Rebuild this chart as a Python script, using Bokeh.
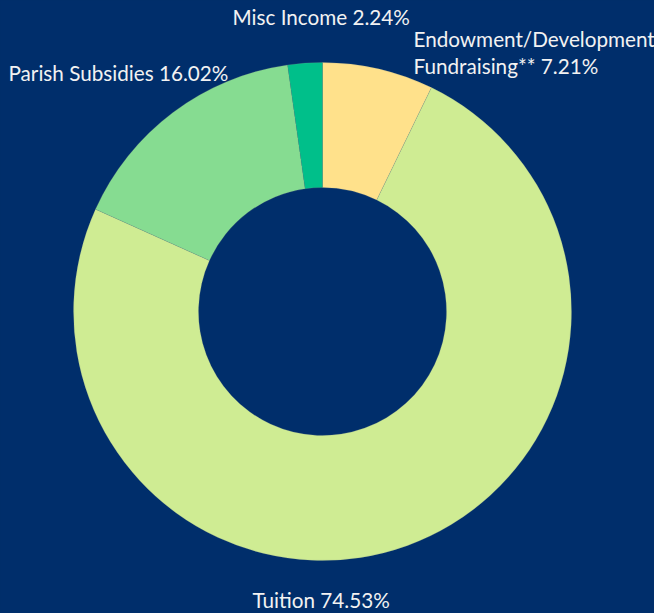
import math
from bokeh.plotting import figure
from bokeh.models import Range1d, ColumnDataSource
from bokeh.core.properties import value
from bokeh.embed import file_html
from bokeh.resources import INLINE

# ---- data (clockwise from 12 o'clock) ----
categories = ["Endowment/Development Fundraising**", "Tuition", "Parish Subsidies", "Misc Income"]
shares = [7.21, 74.53, 16.02, 2.24]
colors = ["#ffe18b", "#cfec93", "#86dc91", "#00bf8a"]
label_lines = [["Endowment/Development", "Fundraising** 7.21%"], ["Tuition 74.53%"],
               ["Parish Subsidies 16.02%"], ["Misc Income 2.24%"]]

BG = "#002e6b"
W, H = 654, 613
CX, CY = 322, H - 311
R_OUT, R_IN = 249, 124

total = sum(shares)
starts, ends = [], []
acc = 0.0
for s in shares:
    a0 = math.pi / 2 - 2 * math.pi * acc / total
    acc += s
    a1 = math.pi / 2 - 2 * math.pi * acc / total
    starts.append(a0)
    ends.append(a1)

src = ColumnDataSource(dict(cat=categories, share=shares, color=colors, start=starts, end=ends))

p = figure(width=W, height=H, output_backend="svg", toolbar_location=None,
           x_range=Range1d(0, W), y_range=Range1d(0, H),
           min_border=0, border_fill_color=BG, background_fill_color=BG)
p.axis.visible = False
p.grid.visible = False
p.outline_line_color = None

p.annular_wedge(x=CX, y=CY, inner_radius=R_IN, outer_radius=R_OUT,
                start_angle="start", end_angle="end", direction="clock",
                fill_color="color", line_color="#8a9a8a", line_alpha=0.35, line_width=0.6,
                source=src)

# label placement (layout only)
DY = 8
label_pos = {
    0: [(413, H - 46 + DY), (413, H - 73 + DY)],
    1: [(252, H - 607 + DY)],
    2: [(8, H - 80 + DY)],
    3: [(232, H - 24 + DY)],
}
xs, ys, txt = [], [], []
for i, lines in enumerate(label_lines):
    for (x, y), t in zip(label_pos[i], lines):
        xs.append(x)
        ys.append(y)
        txt.append(t)

p.text(x=xs, y=ys, text=txt, text_font=value("Lato"), text_font_size="20.7px",
       text_color="#f2f2f2", text_align="left", text_baseline="alphabetic")

html = file_html(p, INLINE)
style = "<style>html,body{margin:0;padding:0;background:%s;overflow:hidden}</style>" % BG
html = html.replace("</head>", style + "</head>", 1)
html = html.replace("<body>", '<body style="margin:0;background:%s;overflow:hidden">' % BG, 1)
open("out.html", "w").write(html)
